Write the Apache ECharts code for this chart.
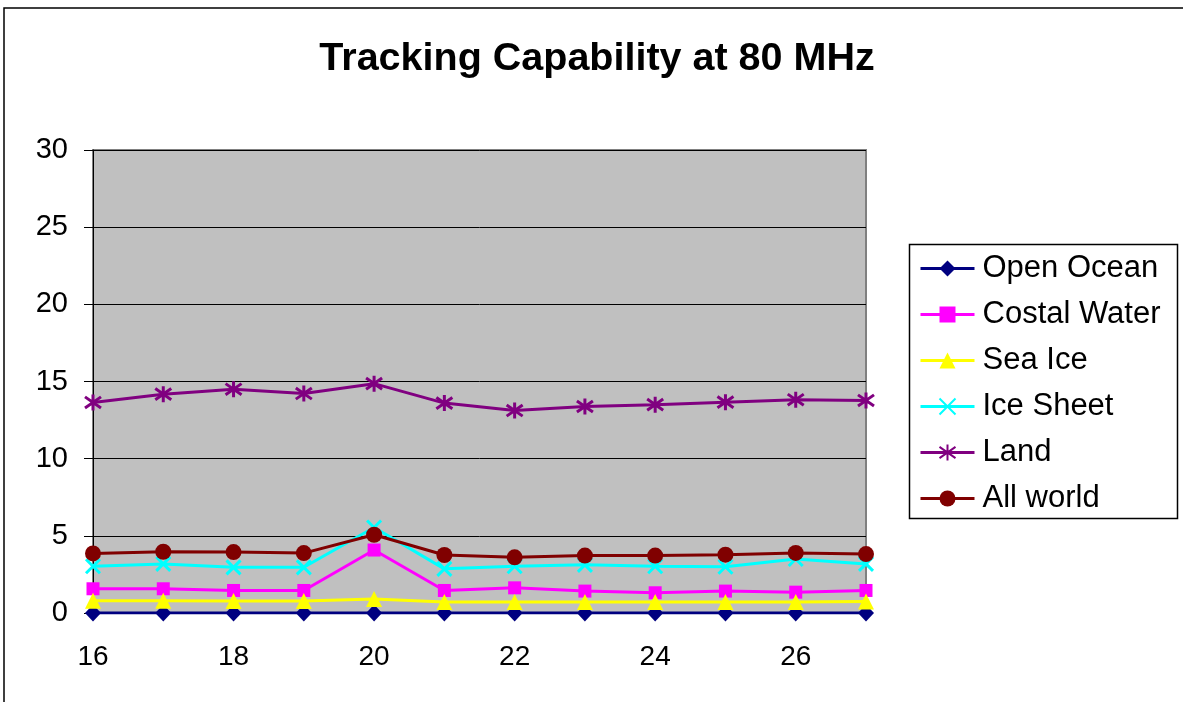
<!DOCTYPE html>
<html>
<head>
<meta charset="utf-8">
<script src="https://cdn.jsdelivr.net/npm/echarts@6/dist/echarts.min.js"></script>
<style>
  html, body { margin: 0; padding: 0; background: #fff; }
  #chart { width: 1183px; height: 702px; }
</style>
</head>
<body>
<div id="chart"></div>
<script>
// Horizontal positions (x values)
const xValues = [16, 17, 18, 19, 20, 21, 22, 23, 24, 25, 26, 27];

// Tracking capability per surface type
const openOcean   = [0, 0, 0, 0, 0, 0, 0, 0, 0, 0, 0, 0];
const costalWater = [1.57, 1.57, 1.46, 1.46, 4.08, 1.46, 1.63, 1.42, 1.31, 1.42, 1.35, 1.46];
const seaIce      = [0.80, 0.80, 0.78, 0.78, 0.90, 0.72, 0.72, 0.72, 0.72, 0.72, 0.72, 0.75];
const iceSheet    = [3.03, 3.18, 2.96, 2.96, 5.54, 2.86, 3.03, 3.12, 3.03, 3.00, 3.50, 3.18];
const land        = [13.64, 14.18, 14.50, 14.22, 14.86, 13.60, 13.12, 13.38, 13.50, 13.66, 13.82, 13.77];
const allWorld    = [3.86, 3.97, 3.95, 3.88, 5.07, 3.76, 3.61, 3.72, 3.72, 3.78, 3.89, 3.82];

const seriesNames = ['Open Ocean', 'Costal Water', 'Sea Ice', 'Ice Sheet', 'Land', 'All world'];
const seriesData  = [openOcean, costalWater, seaIce, iceSheet, land, allWorld];

const FONT = '"Liberation Sans", Arial, sans-serif';

const X_MARK = 'path://M0,0L10,10M10,0L0,10';
const STAR_MARK = 'path://M1.5,1.5L8.5,8.5M8.5,1.5L1.5,8.5M5,0L5,10';

const styles = [
  { color: '#000080', symbol: 'diamond',  size: [16, 17] },
  { color: '#FF00FF', symbol: 'rect',     size: 13 },
  { color: '#FFFF00', symbol: 'triangle', size: [16, 16] },
  { color: '#00FFFF', symbol: X_MARK,     size: 14, stroke: true },
  { color: '#800080', symbol: STAR_MARK,  size: 16, stroke: true },
  { color: '#800000', symbol: 'circle',   size: 16 }
];

const pairs = (ys) => xValues.map((x, i) => [x, ys[i]]);

const series = seriesNames.map((name, k) => {
  const s = styles[k];
  return {
    name: name,
    type: 'line',
    data: pairs(seriesData[k]),
    symbol: s.symbol,
    symbolSize: s.size,
    showAllSymbol: true,
    lineStyle: { color: s.color, width: 3 },
    itemStyle: s.stroke
      ? { color: 'none', borderColor: s.color, borderWidth: 3 }
      : { color: s.color, borderWidth: 0 },
    emphasis: { disabled: true },
    animation: false,
    z: 2 + k
  };
});

const chart = echarts.init(document.getElementById('chart'), null, { renderer: 'canvas' });

chart.setOption({
  backgroundColor: '#ffffff',
  animation: false,
  title: {
    text: 'Tracking Capability at 80 MHz',
    left: 592,
    top: 34,
    textAlign: 'center',
    textStyle: { fontFamily: FONT, fontSize: 39.5, fontWeight: 'bold', color: '#000' }
  },
  graphic: [
    {
      type: 'rect',
      shape: { x: 4, y: 8, width: 1300, height: 800 },
      style: { fill: 'none', stroke: '#000', lineWidth: 1.5 },
      silent: true,
      z: 0
    },
    {
      type: 'rect',
      shape: { x: 909.5, y: 244.5, width: 268, height: 274 },
      style: { fill: '#fff', stroke: '#000', lineWidth: 1.5 },
      silent: true,
      z: 1
    }
  ],
  legend: {
    orient: 'vertical',
    left: 919,
    top: 253,
    padding: 0,
    itemWidth: 54,
    itemHeight: 20,
    itemGap: 15,
    z: 10,
    selectedMode: false,
    lineStyle: { width: 3 },
    textStyle: { fontFamily: FONT, fontSize: 31, lineHeight: 29, color: '#000', padding: [0, 0, 0, 3] },
    data: seriesNames
  },
  grid: {
    left: 93,
    right: 317,
    top: 150,
    bottom: 89,
    show: true,
    backgroundColor: '#C0C0C0',
    borderColor: '#808080',
    borderWidth: 2
  },
  xAxis: {
    type: 'value',
    min: 16,
    max: 27,
    interval: 1,
    axisLine: { show: true, onZero: false, lineStyle: { color: '#000', width: 1 } },
    axisTick: { show: true, length: 6, lineStyle: { color: '#000' } },
    splitLine: { show: false },
    axisLabel: {
      margin: 30,
      fontFamily: FONT,
      fontSize: 28,
      color: '#000',
      formatter: (v) => (v % 2 === 0 && v < 27 ? String(v) : '')
    }
  },
  yAxis: {
    type: 'value',
    min: 0,
    max: 30,
    interval: 5,
    axisLine: { show: true, lineStyle: { color: '#000', width: 1 } },
    axisTick: { show: true, length: 9, lineStyle: { color: '#000' } },
    splitLine: { show: true, lineStyle: { color: '#000', width: 1 } },
    axisLabel: { margin: 25, fontFamily: FONT, fontSize: 29, color: '#000' }
  },
  series: series
});
</script>
</body>
</html>
